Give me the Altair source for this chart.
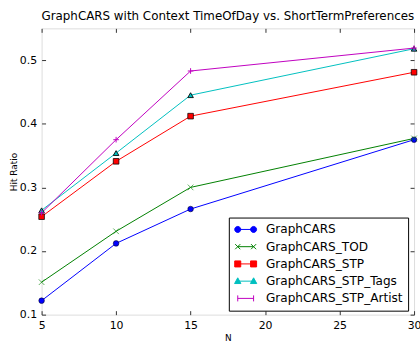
import altair as alt
import pandas as pd

# Hit ratio at each cut-off N for the five GraphCARS variants
N = [5, 10, 15, 30]
graphcars = [0.122, 0.212, 0.266, 0.375]
graphcars_tod = [0.151, 0.231, 0.300, 0.377]
graphcars_stp = [0.254, 0.341, 0.412, 0.481]
graphcars_stp_tags = [0.264, 0.354, 0.445, 0.518]
graphcars_stp_artist = [0.260, 0.375, 0.483, 0.519]

series_names = ["GraphCARS", "GraphCARS_TOD", "GraphCARS_STP",
                "GraphCARS_STP_Tags", "GraphCARS_STP_Artist"]
series_values = [graphcars, graphcars_tod, graphcars_stp,
                 graphcars_stp_tags, graphcars_stp_artist]

x_ticks = [5, 10, 15, 20, 25, 30]
y_ticks = [0.1, 0.2, 0.3, 0.4, 0.5]

# classic matplotlib colour cycle: b, g, r, c, m
colors = ["#0000ff", "#008000", "#ff0000", "#00bfbf", "#bf00bf"]
edge_colors = ["#000000", "#008000", "#000000", "#000000", "#bf00bf"]
edge_widths = [0.5, 1.0, 0.5, 0.5, 1.0]

X_MARK = "M-1,-1L1,1M-1,1L1,-1"
PLUS_MARK = "M-1,0L1,0M0,-1L0,1"
marker_shapes = ["circle", X_MARK, "square", "triangle-up", PLUS_MARK]

# legend keys: a short line with the marker at both ends
LEG_CIRCLE = ("M-1,0L1,0"
              "M-0.62,0A0.38,0.38,0,1,1,-1.38,0A0.38,0.38,0,1,1,-0.62,0Z"
              "M1.38,0A0.38,0.38,0,1,1,0.62,0A0.38,0.38,0,1,1,1.38,0Z")
LEG_X = ("M-1,0L1,0"
         "M-1.32,-0.32L-0.68,0.32M-1.32,0.32L-0.68,-0.32"
         "M0.68,-0.32L1.32,0.32M0.68,0.32L1.32,-0.32")
LEG_SQUARE = ("M-1,0L1,0"
              "M-1.38,-0.38H-0.62V0.38H-1.38Z"
              "M0.62,-0.38H1.38V0.38H0.62Z")
LEG_TRIANGLE = ("M-1,0L1,0"
                "M-1,-0.42L-0.6,0.3H-1.4Z"
                "M1,-0.42L1.4,0.3H0.6Z")
LEG_PLUS = ("M-1,0L1,0"
            "M-1,-0.38V0.38M1,-0.38V0.38")
legend_shapes = [LEG_CIRCLE, LEG_X, LEG_SQUARE, LEG_TRIANGLE, LEG_PLUS]

rows = []
for name, values in zip(series_names, series_values):
    for n, v in zip(N, values):
        rows.append({"N": n, "hit": v, "series": name})
df = pd.DataFrame(rows)

FONT = "DejaVu Sans"
FRAME = "#333333"

x_scale = alt.Scale(domain=[5, 30], nice=False, zero=False)
y_scale = alt.Scale(domain=[0.1, 0.55], nice=False, zero=False)
color_scale = alt.Scale(domain=series_names, range=colors)

common_axis = dict(offset=-4, tickSize=4, tickColor=FRAME, tickWidth=1,
                   domain=False, grid=False, labelFont=FONT,
                   labelFontSize=11, labelColor="black", titleFont=FONT,
                   titleFontSize=9, titleFontWeight="normal",
                   titleColor="black")

x_bottom = alt.X("N:Q", scale=x_scale,
                 axis=alt.Axis(orient="bottom", values=x_ticks, format="d",
                               title="N", labelPadding=5, labelFlush=False,
                               titlePadding=3, **common_axis))
y_left = alt.Y("hit:Q", scale=y_scale,
               axis=alt.Axis(orient="left", values=y_ticks, format=".1f",
                             title="Hit Ratio", labelPadding=5,
                             titlePadding=1, **common_axis))
x_top = alt.X("N:Q", scale=x_scale,
              axis=alt.Axis(orient="top", values=x_ticks, labels=False,
                            title=None, **common_axis))
y_right = alt.Y("hit:Q", scale=y_scale,
                axis=alt.Axis(orient="right", values=y_ticks, labels=False,
                              title=None, **common_axis))
x_plain = alt.X("N:Q", scale=x_scale, axis=None)
y_plain = alt.Y("hit:Q", scale=y_scale, axis=None)

base = alt.Chart(df)

lines = base.mark_line(strokeWidth=1).encode(
    x=x_bottom, y=y_left,
    color=alt.Color("series:N", scale=color_scale, legend=None),
    order=alt.Order("N:Q"),
)

points = base.mark_point(filled=True, size=32, opacity=1).encode(
    x=x_plain, y=y_plain,
    shape=alt.Shape("series:N", scale=alt.Scale(domain=series_names,
                                                 range=marker_shapes),
                    legend=None),
    fill=alt.Fill("series:N", scale=color_scale, legend=None),
    stroke=alt.Stroke("series:N", scale=alt.Scale(domain=series_names,
                                                   range=edge_colors),
                      legend=None),
    strokeWidth=alt.StrokeWidth("series:N",
                                scale=alt.Scale(domain=series_names,
                                                range=edge_widths),
                                legend=None),
)

legend_cfg = alt.Legend(
    title=None, orient="none", legendX=189, legendY=191, padding=5,
    symbolSize=256, symbolStrokeWidth=1, symbolOpacity=1, symbolOffset=3.5,
    labelFont=FONT, labelFontSize=12.2, labelColor="black", labelLimit=400,
    labelOffset=12, rowPadding=3.4, clipHeight=14,
    strokeColor="black", fillColor="white", cornerRadius=0,
)

key = base.mark_point(filled=True, opacity=0).encode(
    x=x_plain, y=y_plain,
    shape=alt.Shape("series:N", scale=alt.Scale(domain=series_names,
                                                 range=legend_shapes),
                    legend=legend_cfg),
    fill=alt.Fill("series:N", scale=color_scale, legend=legend_cfg),
    stroke=alt.Stroke("series:N", scale=color_scale, legend=legend_cfg),
)

frame_ticks = base.mark_line(opacity=0).encode(
    x=x_top, y=y_right, detail="series:N"
)

chart = alt.layer(lines, points, frame_ticks, key).resolve_scale(
    shape="independent", fill="independent", stroke="independent"
).resolve_axis(
    x="independent", y="independent"
).properties(
    width=376,
    height=289,
    title=alt.TitleParams(
        "GraphCARS with Context TimeOfDay vs. ShortTermPreferences",
        font=FONT, fontSize=12, fontWeight="normal", color="black",
        anchor="middle", offset=5,
    ),
    autosize=alt.AutoSizeParams(type="none"),
    padding={"left": 42, "top": 27, "right": 6, "bottom": 27},
).configure_view(
    stroke=FRAME, strokeWidth=1
).configure(background="white")

chart.save("out.html", embed_options={"renderer": "svg", "actions": False})
